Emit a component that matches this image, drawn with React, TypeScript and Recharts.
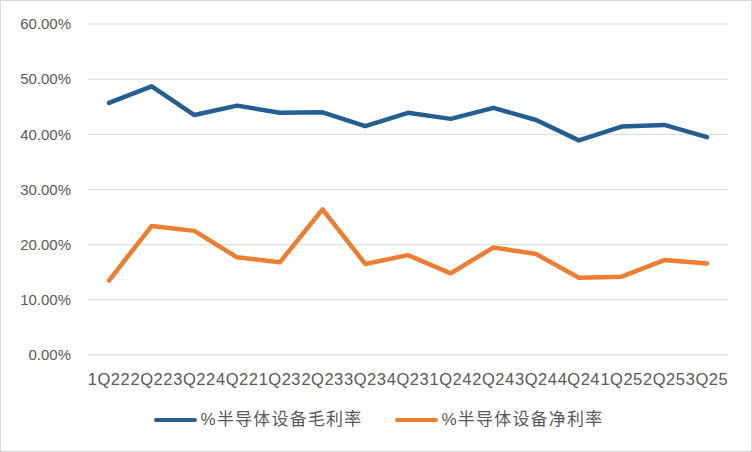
import React from "react";
import { LineChart, Line, XAxis, YAxis, CartesianGrid, Legend } from "recharts";

// quarters on the x axis
const quarters = [
  "1Q22", "2Q22", "3Q22", "4Q22",
  "1Q23", "2Q23", "3Q23", "4Q23",
  "1Q24", "2Q24", "3Q24", "4Q24",
  "1Q25", "2Q25", "3Q25",
];

// 毛利率 (%)
const grossMargin = [45.7, 48.7, 43.5, 45.2, 43.9, 44.0, 41.5, 43.9, 42.8, 44.8, 42.6, 38.9, 41.4, 41.7, 39.5];
// 净利率 (%)
const netMargin = [13.5, 23.4, 22.5, 17.7, 16.8, 26.4, 16.5, 18.1, 14.8, 19.5, 18.3, 14.0, 14.2, 17.2, 16.6];

const yTicks = [0, 10, 20, 30, 40, 50, 60];

const seriesNames = ["%半导体设备毛利率", "%半导体设备净利率"];
const BLUE = "#255E91";
const ORANGE = "#ED7D31";
const TEXT = "#595959";

const data = quarters.map((q, i) => ({
  q,
  gross: grossMargin[i],
  net: netMargin[i],
}));

function LegendBox() {
  const items = [
    { name: seriesNames[0], color: BLUE },
    { name: seriesNames[1], color: ORANGE },
  ];
  return (
    <div
      style={{
        height: 24,
        display: "flex",
        justifyContent: "center",
        alignItems: "center",
        gap: 32,
        paddingLeft: 28,
      }}
    >
      {items.map(it => (
        <div key={it.name} style={{ display: "flex", alignItems: "center" }}>
          <div style={{ width: 43, height: 4, borderRadius: 2, background: it.color, marginRight: 4 }} />
          <span
            style={{
              fontFamily: "'Liberation Sans', 'Noto Sans CJK SC', sans-serif",
              fontSize: 17,
              letterSpacing: 1.2,
              color: TEXT,
              lineHeight: "24px",
            }}
          >
            {it.name}
          </span>
        </div>
      ))}
    </div>
  );
}

export default function App() {
  return (
    <div
      style={{
        position: "fixed",
        left: 0,
        top: 0,
        width: 752,
        height: 452,
        boxSizing: "border-box",
        border: "1px solid #D9D9D9",
        background: "#fff",
      }}
    >
      <LineChart
        width={750}
        height={450}
        data={data}
        margin={{ top: 23, right: 23, left: 0, bottom: 19 }}
      >
        <CartesianGrid vertical={false} stroke="#D9D9D9" strokeWidth={1} />
        <XAxis
          dataKey="q"
          interval={0}
          padding={{ left: 21, right: 21 }}
          axisLine={false}
          tickLine={false}
          tickSize={0}
          tickMargin={18}
          height={53}
          tick={{ fill: TEXT, fontSize: 16.5, fontFamily: "'Liberation Sans', sans-serif", letterSpacing: 0.5 }}
        />
        <YAxis
          width={87}
          domain={[0, 60]}
          ticks={yTicks}
          axisLine={false}
          tickLine={false}
          tickSize={0}
          tickMargin={17}
          tickFormatter={(v: number) => v.toFixed(2) + "%"}
          tick={{ fill: TEXT, fontSize: 15, fontFamily: "'Liberation Sans', sans-serif" }}
        />
        <Legend verticalAlign="bottom" height={24} content={() => <LegendBox />} />
        <Line
          type="linear"
          dataKey="gross"
          name={seriesNames[0]}
          stroke={BLUE}
          strokeWidth={4.5}
          strokeLinecap="round"
          strokeLinejoin="round"
          dot={false}
          activeDot={false}
          isAnimationActive={false}
        />
        <Line
          type="linear"
          dataKey="net"
          name={seriesNames[1]}
          stroke={ORANGE}
          strokeWidth={4.5}
          strokeLinecap="round"
          strokeLinejoin="round"
          dot={false}
          activeDot={false}
          isAnimationActive={false}
        />
      </LineChart>
    </div>
  );
}
